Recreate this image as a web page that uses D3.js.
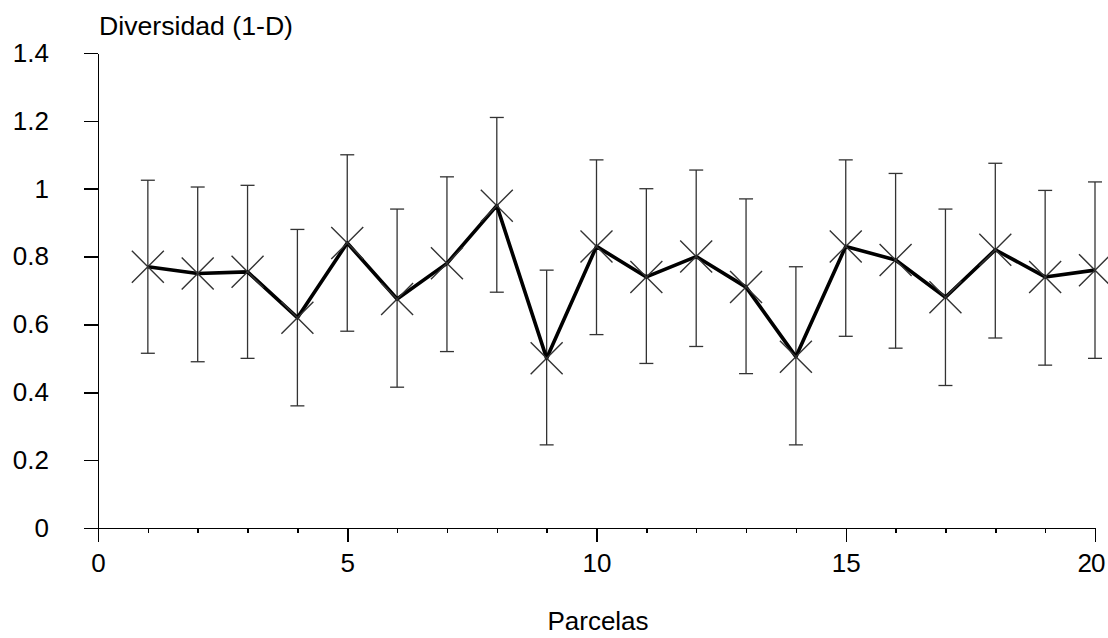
<!DOCTYPE html>
<html>
<head>
<meta charset="utf-8">
<script src="https://cdn.jsdelivr.net/npm/d3@7"></script>
<style>
	body { margin: 0; background: #fff; }
	svg { display: block; }
	.axis path, .axis line { stroke: #000; stroke-width: 1.5; shape-rendering: crispEdges; }
	.axis text { font-family: "Liberation Sans", Arial, sans-serif; font-size: 26px; fill: #000; }
	.lbl { font-family: "Liberation Sans", Arial, sans-serif; font-size: 26px; fill: #000; }
</style>
</head>
<body>
<div id="chart"></div>
<script>
// parcelas 1..20
const parcelas = [1, 2, 3, 4, 5, 6, 7, 8, 9, 10, 11, 12, 13, 14, 15, 16, 17, 18, 19, 20];
// diversidad (1-D) media
const diversidad = [0.77, 0.75, 0.755, 0.62, 0.84, 0.675, 0.78, 0.95, 0.50, 0.83,
	0.74, 0.80, 0.71, 0.505, 0.83, 0.79, 0.68, 0.82, 0.74, 0.76];
// limites de las barras de error
const superior = [1.025, 1.005, 1.01, 0.88, 1.10, 0.94, 1.035, 1.21, 0.76, 1.085,
	1.0, 1.055, 0.97, 0.77, 1.085, 1.045, 0.94, 1.075, 0.995, 1.02];
const inferior = [0.515, 0.49, 0.50, 0.36, 0.58, 0.415, 0.52, 0.695, 0.245, 0.57,
	0.485, 0.535, 0.455, 0.245, 0.565, 0.53, 0.42, 0.56, 0.48, 0.50];

const xTicks = [0, 5, 10, 15, 20];
const yTicks = [0, 0.2, 0.4, 0.6, 0.8, 1, 1.2, 1.4];

const width = 1108, height = 638;

const svg = d3.select("#chart").append("svg")
	.attr("width", width).attr("height", height);

const xScale = d3.scaleLinear().domain([0, 20]).range([98, 1095]);
const yScale = d3.scaleLinear().domain([0, 1.4]).range([528, 53]);

/* minor ticks on x */
svg.append("g")
	.attr("class", "axis")
	.attr("transform", "translate(0," + yScale(0) + ")")
	.call(d3.axisBottom(xScale).tickValues(d3.range(0, 21)).tickSize(5).tickSizeOuter(0).tickFormat(""));

const xAxisG = svg.append("g")
	.attr("class", "axis")
	.attr("transform", "translate(0," + yScale(0) + ")")
	.call(d3.axisBottom(xScale).tickValues(xTicks).tickSize(14).tickSizeOuter(0).tickPadding(12).tickFormat(d3.format("d")));

// the last label would run off the right edge
xAxisG.selectAll(".tick text")
	.filter(d => d === 20)
	.attr("text-anchor", "end")
	.attr("x", 9)
	.attr("letter-spacing", -1);

svg.append("g")
	.attr("class", "axis")
	.attr("transform", "translate(" + xScale(0) + ",0)")
	.call(d3.axisLeft(yScale).tickValues(yTicks).tickSize(14).tickSizeOuter(0).tickPadding(35).tickFormat(d => d3.format("")(+d.toFixed(1))));

/* axis labels */
svg.append("text")
	.attr("class", "lbl")
	.attr("x", 99).attr("y", 35)
	.attr("textLength", 194)
	.attr("lengthAdjust", "spacingAndGlyphs")
	.text("Diversidad (1-D)");

svg.append("text")
	.attr("class", "lbl")
	.attr("x", 598).attr("y", 630)
	.style("text-anchor", "middle")
	.text("Parcelas");

const data = parcelas.map((p, i) => ({ x: p, y: diversidad[i], hi: superior[i], lo: inferior[i] }));

/* error bars */
const eb = svg.append("g").attr("stroke", "#333").attr("stroke-width", 1.3);
eb.selectAll("line.v").data(data).enter().append("line")
	.attr("x1", d => xScale(d.x)).attr("x2", d => xScale(d.x))
	.attr("y1", d => yScale(d.hi)).attr("y2", d => yScale(d.lo));
eb.selectAll("line.t").data(data).enter().append("line")
	.attr("x1", d => xScale(d.x) - 7).attr("x2", d => xScale(d.x) + 7)
	.attr("y1", d => yScale(d.hi)).attr("y2", d => yScale(d.hi));
eb.selectAll("line.b").data(data).enter().append("line")
	.attr("x1", d => xScale(d.x) - 7).attr("x2", d => xScale(d.x) + 7)
	.attr("y1", d => yScale(d.lo)).attr("y2", d => yScale(d.lo));

/* line */
svg.append("path")
	.datum(data)
	.attr("fill", "none")
	.attr("stroke", "#000")
	.attr("stroke-width", 3.6)
	.attr("stroke-linejoin", "round")
	.attr("d", d3.line().x(d => xScale(d.x)).y(d => yScale(d.y)));

/* X markers */
const s = 16;
const mk = svg.append("g").attr("stroke", "#333").attr("stroke-width", 1.4);
mk.selectAll("path").data(data).enter().append("path")
	.attr("d", d => {
		const cx = xScale(d.x), cy = yScale(d.y);
		return "M" + (cx - s) + "," + (cy - s) + "L" + (cx + s) + "," + (cy + s)
			+ "M" + (cx - s) + "," + (cy + s) + "L" + (cx + s) + "," + (cy - s);
	});
</script>
</body>
</html>
